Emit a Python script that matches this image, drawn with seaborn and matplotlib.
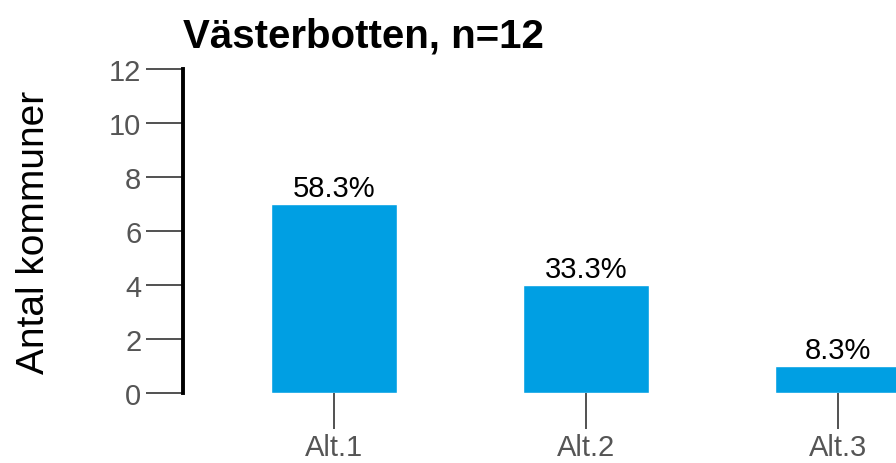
import matplotlib
matplotlib.use("Agg")
import matplotlib.pyplot as plt
import seaborn as sns
import pandas as pd

# Survey answers for Västerbotten
categories = ["Alt.1", "Alt.2", "Alt.3"]
counts = [7, 4, 1]
n_total = 12
title = "Västerbotten, n=12"
y_label = "Antal kommuner"
y_ticks = [0, 2, 4, 6, 8, 10, 12]

sns.set_theme(style="white")
plt.rcParams["font.family"] = ["Liberation Sans", "DejaVu Sans"]

df = pd.DataFrame({"alt": categories, "count": counts})

fig = plt.figure(figsize=(8.96, 4.64), dpi=100)
ax = fig.add_axes([183 / 896, 70 / 464, (896 - 183) / 896, (394 - 70) / 464])

sns.barplot(data=df, x="alt", y="count", color="#009FE3", saturation=1,
            width=0.5, ax=ax)

ax.set_xlim(-0.6, 2.23)
ax.set_ylim(0, 12)
ax.set_yticks(y_ticks)

# Percentage labels above each bar
for i, c in enumerate(counts):
    ax.text(i, c + 0.08, f"{100 * c / n_total:.1f}%", ha="center", va="bottom",
            fontsize=21, color="black")

for side in ["top", "right", "bottom"]:
    ax.spines[side].set_visible(False)
ax.spines["left"].set_linewidth(2.8)
ax.spines["left"].set_color("black")

ax.tick_params(axis="y", length=27, width=1.2, color="#333333", pad=3,
               labelsize=21, labelcolor="#555555", left=True)
ax.tick_params(axis="x", length=26, width=1.2, color="#333333", pad=3,
               labelsize=21, labelcolor="#555555", bottom=True)

ax.set_xlabel("")
ax.set_ylabel(y_label, fontsize=28, color="black", labelpad=41)
ax.set_title(title, loc="left", fontsize=29, fontweight="bold", pad=16,
             color="black")

fig.savefig("out.png", dpi=100)
